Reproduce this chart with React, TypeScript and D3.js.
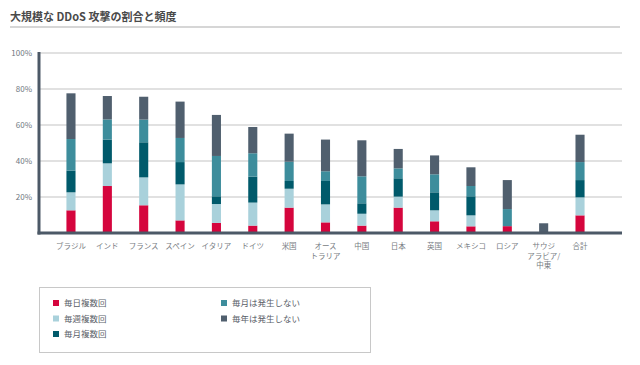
import React from "react";
import * as d3 from "d3";

const categories: string[][] = [
  ["ブラジル"], ["インド"], ["フランス"], ["スペイン"], ["イタリア"], ["ドイツ"], ["米国"],
  ["オース", "トラリア"], ["中国"], ["日本"], ["英国"], ["メキシコ"], ["ロシア"],
  ["サウジ", "アラビア/", "中東"], ["合計"],
];

const seriesNames = ["毎日複数回", "毎週複数回", "毎月複数回", "毎月は発生しない", "毎年は発生しない"];

const dailyMulti = [12.6, 26.1, 15.4, 7.0, 5.6, 4.1, 14.1, 5.9, 4.1, 14.1, 6.5, 3.7, 3.8, 0, 9.8];
const weeklyMulti = [10.0, 12.6, 15.5, 20.0, 10.5, 12.8, 10.5, 10.0, 6.6, 6.1, 6.1, 6.1, 0, 0, 10.0];
const monthlyMulti = [12.0, 13.2, 19.5, 12.4, 4.3, 14.4, 4.3, 13.0, 5.8, 10.2, 10.0, 10.6, 0, 0, 9.6];
const notMonthly = [17.6, 11.2, 12.6, 13.4, 22.4, 13.0, 10.7, 5.4, 15.0, 5.5, 10.0, 5.7, 9.5, 0, 10.0];
const notYearly = [25.4, 13.0, 12.7, 20.2, 22.8, 14.6, 15.6, 17.6, 20.0, 10.8, 10.5, 10.4, 16.1, 5.4, 15.2];

const yTicks = [20, 40, 60, 80, 100];

const colors = ["#d5053d", "#a9d1db", "#005a6b", "#3d8d9c", "#505f6e"];

const FONT = "'Noto Sans CJK JP', 'Noto Sans', sans-serif";

export default function App() {
  const width = 640;
  const height = 365;
  const series = [dailyMulti, weeklyMulti, monthlyMulti, notMonthly, notYearly];
  const rows = categories.map((c, i) => {
    const r: any = { key: String(i) };
    series.forEach((s, j) => (r["s" + j] = s[i]));
    return r;
  });
  const stack = d3.stack<any>().keys(series.map((_, j) => "s" + j))(rows);

  const x = d3
    .scaleBand<string>()
    .domain(categories.map((_, i) => String(i)))
    .range([52.8, 598.2])
    .paddingInner(0.75)
    .paddingOuter(0.375);
  const y = d3.scaleLinear().domain([0, 100]).range([233, 53]);

  const axisLeft = 39;
  const axisRight = 622;

  return (
    <svg width={width} height={height} style={{ position: "absolute", left: 0, top: 0 }}>
      <rect width={width} height={height} fill="#ffffff" />
      <text x={10} y={21} fontFamily={FONT} fontSize={11} fontWeight={700} fill="#4a4a4a">
        大規模な DDoS 攻撃の割合と頻度
      </text>
      <line x1={10} x2={620} y1={27} y2={27} stroke="#c8c8c8" strokeWidth={1.5} />

      {yTicks.map((t) => (
        <g key={t}>
          <line x1={axisLeft} x2={axisRight} y1={y(t)} y2={y(t)} stroke="#c4c4c4" strokeWidth={1.2} />
          <text x={32} y={y(t) + 3} textAnchor="end" fontFamily={FONT} fontSize={8} fill="#6e7780">
            {t}%
          </text>
        </g>
      ))}

      {stack.map((layer, j) => (
        <g key={j} fill={colors[j]}>
          {layer.map((d, i) => {
            const h = y(d[0]) - y(d[1]);
            if (h <= 0) return null;
            return <rect key={i} x={x(String(i))} y={y(d[1])} width={x.bandwidth()} height={h} />;
          })}
        </g>
      ))}

      <line x1={axisLeft} x2={axisLeft} y1={52} y2={234.5} stroke="#4c5967" strokeWidth={3} />
      <line x1={axisLeft - 1.5} x2={axisRight} y1={233} y2={233} stroke="#4c5967" strokeWidth={3} />

      {categories.map((lines, i) => (
        <text
          key={i}
          x={(x(String(i)) as number) + x.bandwidth() / 2}
          y={249}
          textAnchor="middle"
          fontFamily={FONT}
          fontSize={7.5}
          fill="#777c82"
        >
          {lines.map((l, k) => (
            <tspan key={k} x={(x(String(i)) as number) + x.bandwidth() / 2} dy={k === 0 ? 0 : 9.5}>
              {l}
            </tspan>
          ))}
        </text>
      ))}

      <rect x={39.5} y={287.5} width={331} height={65} fill="none" stroke="#c8c8c8" strokeWidth={1} />
      {seriesNames.map((name, j) => {
        const col = j < 3 ? 0 : 1;
        const row = j < 3 ? j : j - 3;
        const lx = col === 0 ? 53 : 221;
        const ly = 303 + row * 15.5;
        return (
          <g key={j}>
            <rect x={lx} y={ly - 3} width={6} height={6} fill={colors[j]} />
            <text x={lx + 11} y={ly + 3} fontFamily={FONT} fontSize={8.5} fill="#5a6068">
              {name}
            </text>
          </g>
        );
      })}
    </svg>
  );
}
